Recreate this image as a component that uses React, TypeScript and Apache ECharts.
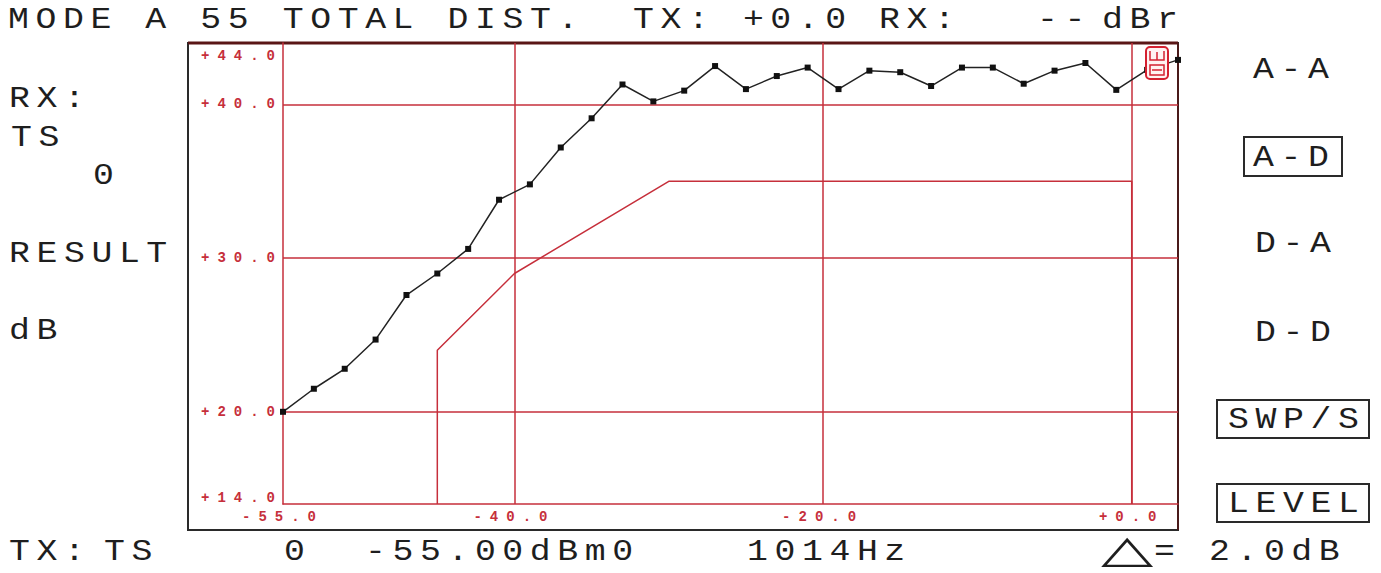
import React, { useEffect, useRef } from "react";
import * as echarts from "echarts";

// Signal level (dBm0) of each measured point
const levels = [-55, -53, -51, -49, -47, -45, -43, -41, -39, -37, -35, -33, -31, -29, -27, -25, -23, -21, -19, -17, -15, -13, -11, -9, -7, -5, -3, -1, 1, 3];
// Measured total distortion ratio (dB)
const distortion = [20.0, 21.5, 22.8, 24.7, 27.6, 29.0, 30.6, 33.8, 34.8, 37.2, 39.1, 41.3, 40.2, 40.9, 42.5, 41.0, 41.85, 42.4, 41.0, 42.2, 42.1, 41.2, 42.4, 42.4, 41.35, 42.2, 42.7, 40.95, 42.25, 42.9];
// Limit mask
const maskLevels = [-45, -45, -40, -30, 0, 0];
const maskValues = [14, 24, 29, 35, 35, 14];
// Axis labels and grid lines
const xTickValues = [-55, -40, -20, 0];
const yTickValues = [14, 20, 30, 40, 44];
const xGridValues = [-40, -20, 0];
const yGridValues = [20, 30, 40];

const MONO = '"Liberation Mono", "Courier New", monospace';
const RED = "#c62f3b";
const INK = "#1e1e1e";

function fmt(v: number) {
  return (v >= 0 ? "+" : "") + v.toFixed(1);
}

function label(text: string, x: number, y: number) {
  return {
    type: "text",
    x,
    y,
    scaleX: 1.2,
    style: { text, fontSize: 29, fontFamily: MONO, fill: INK, align: "left", verticalAlign: "middle" },
  };
}

function box(x: number, y: number, w: number, h: number) {
  return {
    type: "rect",
    shape: { x, y, width: w, height: h },
    style: { fill: "none", stroke: "#2a2a2a", lineWidth: 2 },
  };
}

export default function App() {
  const ref = useRef<HTMLDivElement>(null);
  useEffect(() => {
    if (!ref.current) return;
    const chart = echarts.init(ref.current, undefined, { renderer: "svg" });
    chart.setOption({
      animation: false,
      backgroundColor: "#ffffff",
      grid: { left: 283, top: 43, width: 895, height: 461, containLabel: false },
      xAxis: {
        type: "value",
        min: -55,
        max: 3,
        interval: 1,
        axisLine: { show: true, onZero: false, lineStyle: { color: RED, width: 1.5 } },
        axisTick: { show: false },
        splitLine: { show: false },
        axisLabel: {
          margin: 6,
          fontSize: 14,
          fontWeight: "bold",
          fontFamily: MONO,
          color: RED,
          formatter: (v: number) => (xTickValues.includes(v) ? fmt(v) : ""),
        },
      },
      yAxis: {
        type: "value",
        min: 14,
        max: 44,
        interval: 2,
        axisLine: { show: true, onZero: false, lineStyle: { color: RED, width: 1.5 } },
        axisTick: { show: false },
        splitLine: { show: false },
        axisLabel: {
          margin: 0,
          fontSize: 14,
          lineHeight: 13,
          fontWeight: "bold",
          fontFamily: MONO,
          color: RED,
          formatter: (v: number) => {
            if (!yTickValues.includes(v)) return "";
            const s = fmt(v);
            if (v === 44) return "\n\n" + s;
            if (v === 14) return s + "\n";
            return s;
          },
        },
      },
      graphic: [
        // outer frame
        box(188, 43, 990, 487),
        { type: "line", shape: { x1: 188, y1: 43, x2: 1178, y2: 43 }, style: { stroke: "#5a1616", lineWidth: 3 } },
        { type: "line", shape: { x1: 1178, y1: 43, x2: 1178, y2: 530 }, style: { stroke: "#4a1a1a", lineWidth: 2 } },
        // header
        label("MODE A 55 TOTAL DIST.", 8, 20),
        label("TX: +0.0", 633, 20),
        label("RX:", 879, 20),
        label("--", 1037, 20),
        label("dBr", 1102, 20),
        // left panel
        label("RX:", 9, 99),
        label("TS", 11, 138),
        label("0", 93, 176),
        label("RESULT", 9, 254),
        label("dB", 9, 331),
        // right panel
        label("A-A", 1253, 70),
        box(1244, 137, 98, 39),
        label("A-D", 1253, 158),
        label("D-A", 1255, 244),
        label("D-D", 1255, 333),
        box(1217, 400, 152, 38),
        label("SWP/S", 1228, 420),
        box(1217, 484, 152, 38),
        label("LEVEL", 1228, 504),
        // footer
        label("TX:", 9, 552),
        label("TS", 104, 552),
        label("0", 284, 552),
        label("-55.00dBm0", 365, 552),
        label("1014Hz", 747, 552),
        {
          type: "text",
          x: 1101,
          y: 549,
          scaleX: 1.7,
          scaleY: 0.95,
          style: { text: "△", fontSize: 40, fontFamily: '"DejaVu Sans", sans-serif', fill: INK, align: "left", verticalAlign: "middle" },
        },
        label("= 2.0dB", 1154, 552),
        // marker icon
        {
          type: "rect",
          shape: { x: 1146, y: 47, width: 22, height: 32, r: 4 },
          style: { fill: "#fff2f2", stroke: "#d42030", lineWidth: 2 },
          z: 10,
        },
        {
          type: "polyline",
          shape: { points: [[1150, 51], [1150, 60], [1164, 60], [1164, 51]] },
          style: { fill: "none", stroke: "#d42030", lineWidth: 1.5 },
          z: 11,
        },
        { type: "line", shape: { x1: 1157, y1: 52, x2: 1157, y2: 60 }, style: { stroke: "#d42030", lineWidth: 1.5 }, z: 11 },
        { type: "rect", shape: { x: 1150, y: 65, width: 14, height: 10 }, style: { fill: "none", stroke: "#d42030", lineWidth: 1.5 }, z: 11 },
        { type: "line", shape: { x1: 1152, y1: 70, x2: 1162, y2: 70 }, style: { stroke: "#d42030", lineWidth: 1.5 }, z: 11 },
      ],
      series: [
        {
          name: "mask",
          type: "line",
          data: maskLevels.map((x, i) => [x, maskValues[i]]),
          symbol: "none",
          lineStyle: { color: RED, width: 1.5 },
          z: 3,
          markLine: {
            silent: true,
            symbol: ["none", "none"],
            label: { show: false },
            lineStyle: { color: RED, width: 1.5, type: "solid" },
            data: [
              ...yGridValues.map((v) => ({ yAxis: v })),
              ...xGridValues.map((v) => ({ xAxis: v })),
            ],
          },
        },
        {
          name: "distortion",
          type: "line",
          data: levels.map((x, i) => [x, distortion[i]]),
          symbol: "rect",
          symbolSize: 6,
          clip: false,
          itemStyle: { color: "#111" },
          lineStyle: { color: "#222", width: 1.5 },
          z: 5,
        },
      ],
    });
    return () => chart.dispose();
  }, []);
  return (
    <>
      <style>{`.rs text[style*="29px"]{letter-spacing:5.5px}.rs text[style*="14px"]{letter-spacing:8px}`}</style>
      <div
        ref={ref}
        className="rs"
        style={{ position: "absolute", left: 0, top: 0, width: 1381, height: 573, background: "#fff" }}
      />
    </>
  );
}
